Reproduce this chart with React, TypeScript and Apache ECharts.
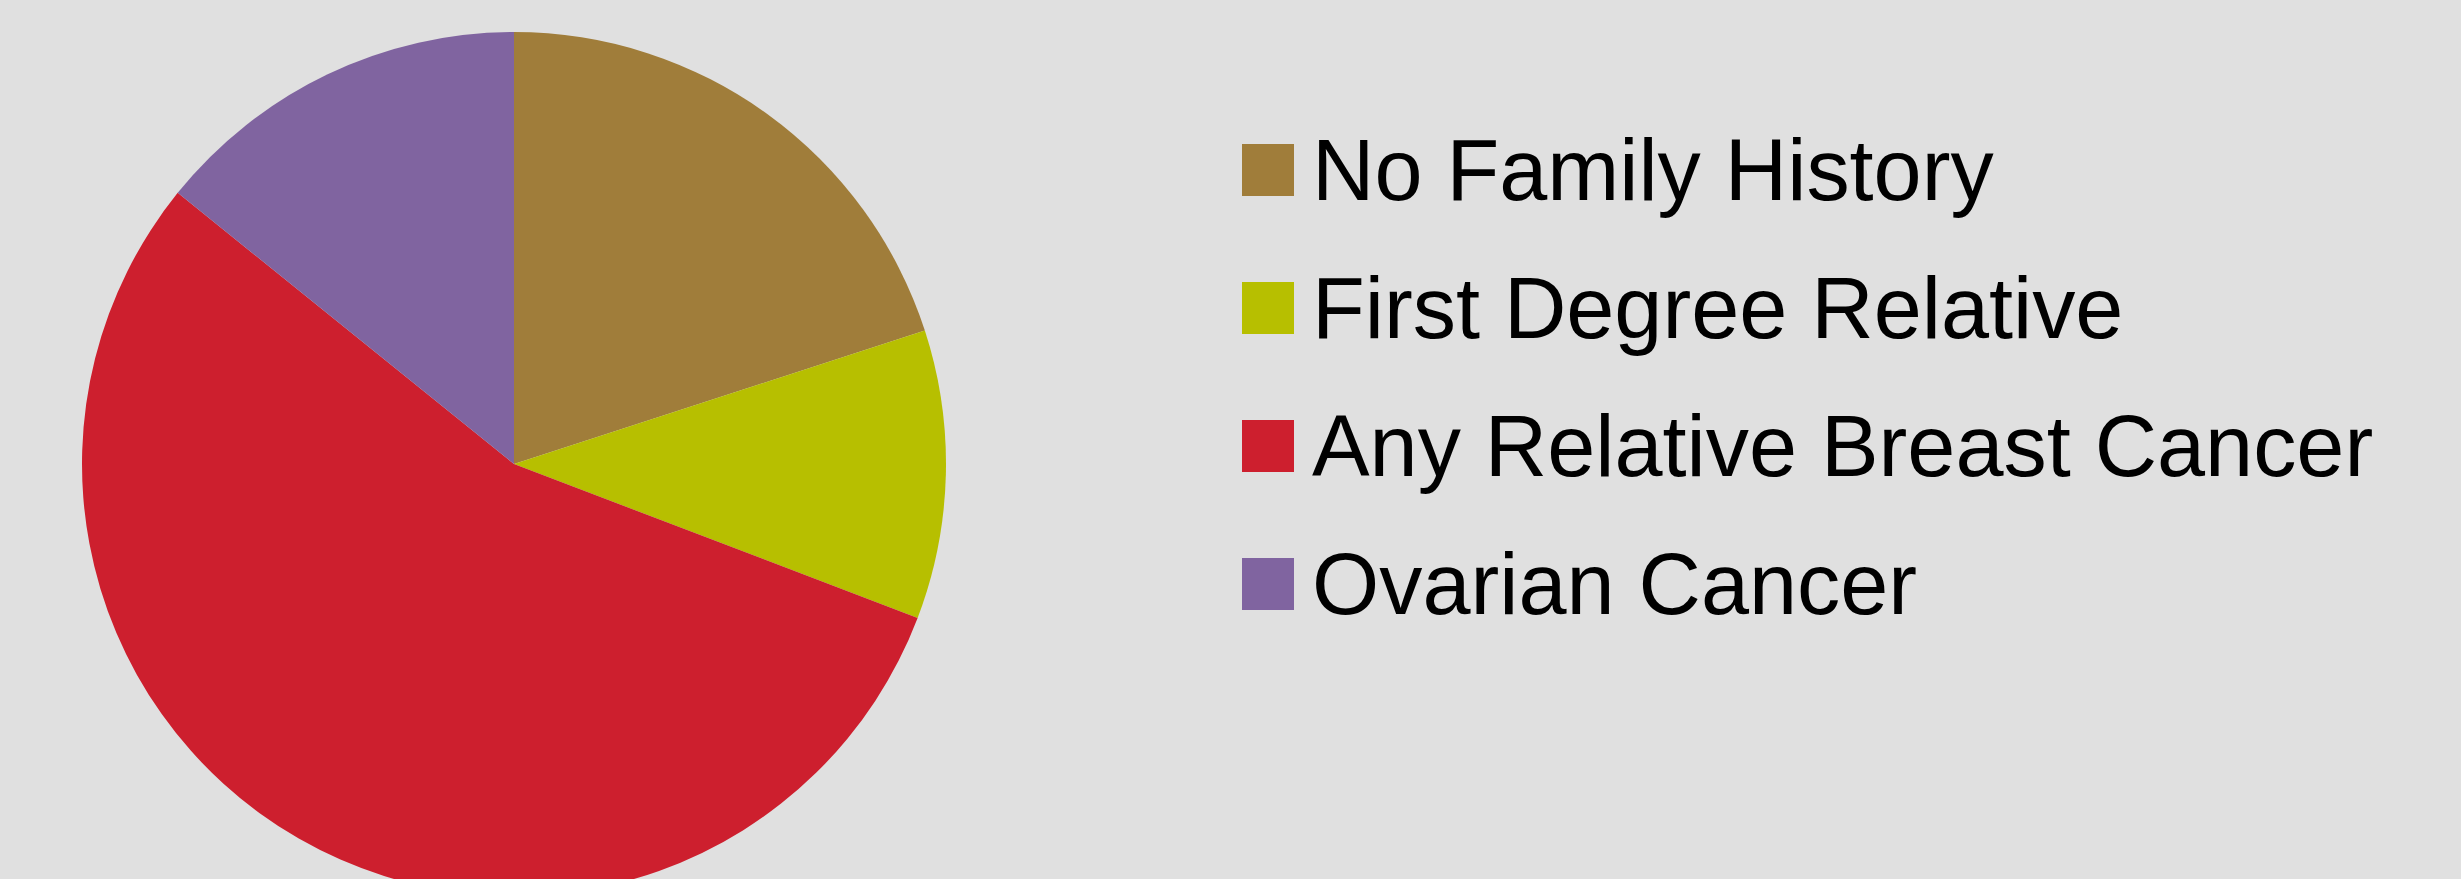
import React, { useEffect, useRef } from "react";
import * as echarts from "echarts";

const categories: string[] = [
  "No Family History",
  "First Degree Relative",
  "Any Relative Breast Cancer",
  "Ovarian Cancer",
];
const values: number[] = [20.0, 10.8, 55.0, 14.2];
const colors: string[] = ["#a07d3a", "#b7bf00", "#cd1f2e", "#8064a0"];

export default function App() {
  const ref = useRef<HTMLDivElement | null>(null);

  useEffect(() => {
    document.body.style.margin = "0";
    if (!ref.current) return;
    const chart = echarts.init(ref.current, undefined, { renderer: "svg" });
    chart.setOption({
      animation: false,
      backgroundColor: "#e0e0e0",
      color: colors,
      legend: {
        orient: "vertical",
        left: 1242,
        top: 127,
        padding: 0,
        itemWidth: 52,
        itemHeight: 52,
        itemGap: 52,
        icon: "rect",
        selectedMode: false,
        data: categories,
        itemStyle: { borderWidth: 0 },
        textStyle: {
          fontFamily: "Liberation Sans",
          fontSize: 86.4,
          lineHeight: 86,
          color: "#000000",
          padding: [0, 0, 0, 13],
        },
      },
      series: [
        {
          type: "pie",
          center: [514, 464],
          radius: 432,
          startAngle: 90,
          clockwise: true,
          label: { show: false },
          labelLine: { show: false },
          emphasis: { disabled: true },
          itemStyle: { borderWidth: 0 },
          data: categories.map((name, i) => ({ name, value: values[i] })),
        },
      ],
    });
    return () => chart.dispose();
  }, []);

  return (
    <div
      ref={ref}
      style={{ position: "fixed", left: 0, top: 0, width: 2461, height: 879 }}
    />
  );
}
